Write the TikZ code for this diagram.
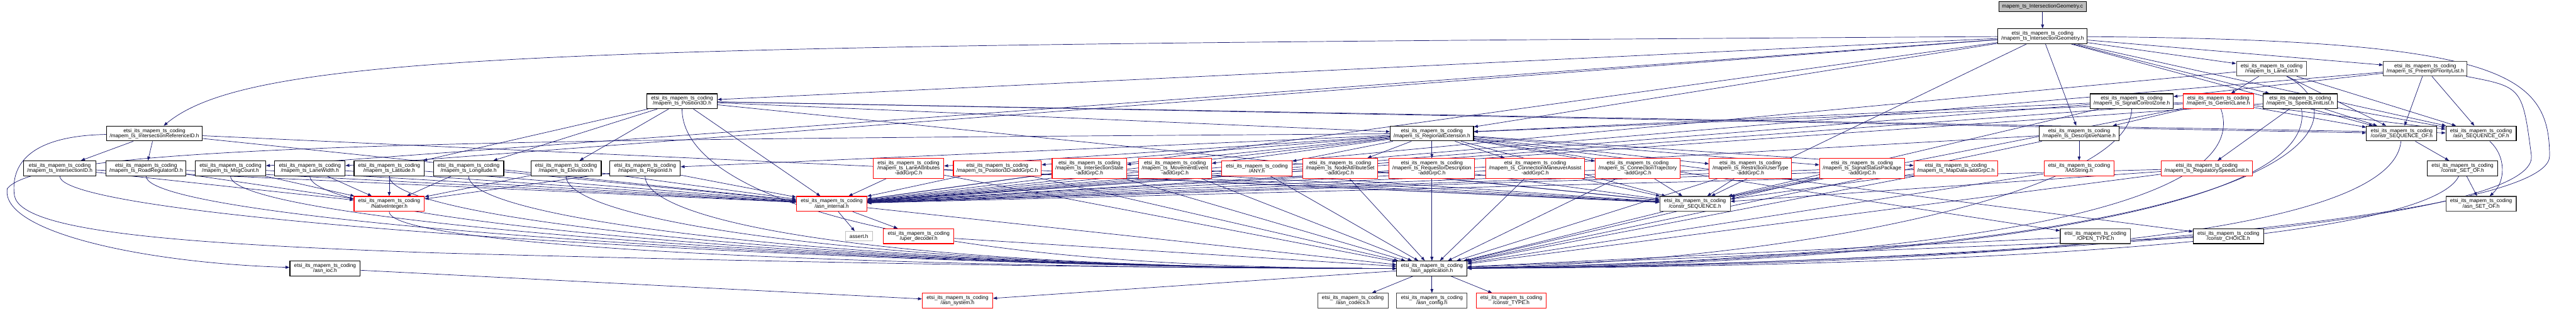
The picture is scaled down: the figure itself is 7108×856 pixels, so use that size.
\documentclass[tikz,border=0pt]{standalone}
\usepackage{fontspec}
\setmainfont{Liberation Sans}
\usetikzlibrary{arrows.meta}

\definecolor{edgeblue}{RGB}{25,25,112}
\definecolor{cutred}{RGB}{255,0,0}
\definecolor{greyline}{RGB}{191,191,191}
\definecolor{darkline}{RGB}{64,64,64}
\newcommand{\pkg}{etsi\_its\_mapem\_ts\_coding}

\pgfdeclarelayer{back}
\pgfsetlayers{back,main}

\tikzset{
  file/.style={draw=black, fill=white, line width=0.55pt, align=center,
    font=\fontsize{4.1}{4.0}\selectfont, inner xsep=0.09cm, inner ysep=0.03cm,
    minimum width=1.94cm, minimum height=0.41cm},
  undoc/.style={file, draw=darkline},
  truncated/.style={file, draw=cutred},
  tall/.style={minimum height=0.55cm},
  sysfile/.style={file, draw=greyline, minimum width=0.74cm, minimum height=0.26cm},
  rootfile/.style={file, fill=greyline, minimum height=0.27cm},
  dep/.style={draw=edgeblue, line width=0.35pt, -{Triangle[length=3.1pt,width=2.3pt]}}
}

\begin{document}
\begin{tikzpicture}[x=0.01cm, y=-0.01cm]
\useasboundingbox (0,0) rectangle (7108,856);

% the file and its header
\node[rootfile] (geomc) at (5636,18) {mapem\_ts\_IntersectionGeometry.c};
\node[file] (geomh) at (5636,100) {\pkg\\/mapem\_ts\_IntersectionGeometry.h};

% lists and records used by the header
\node[undoc] (lanelist) at (6268,189) {\pkg\\/mapem\_ts\_LaneList.h};
\node[undoc] (preempt) at (6692,189) {\pkg\\/mapem\_ts\_PreemptPriorityList.h};
\node[file] (pos3d) at (1882,279) {\pkg\\/mapem\_ts\_Position3D.h};
\node[file] (sigzone) at (5882,279) {\pkg\\/mapem\_ts\_SignalControlZone.h};
\node[truncated] (genlane) at (6121,279) {\pkg\\/mapem\_ts\_GenericLane.h};
\node[file] (speedlist) at (6347,279) {\pkg\\/mapem\_ts\_SpeedLimitList.h};
\node[file] (refid) at (426,368) {\pkg\\/mapem\_ts\_IntersectionReferenceID.h};
\node[file] (regext) at (3951,368) {\pkg\\/mapem\_ts\_RegionalExtension.h};
\node[file] (descname) at (5737,368) {\pkg\\/mapem\_ts\_DescriptiveName.h};
\node[file] (seqofc) at (6627,368) {\pkg\\/constr\_SEQUENCE\_OF.h};
\node[file] (seqofa) at (6846,368) {\pkg\\/asn\_SEQUENCE\_OF.h};

% simple types and extensions
\node[file] (intid) at (165,464) {\pkg\\/mapem\_ts\_IntersectionID.h};
\node[file] (regulator) at (403,464) {\pkg\\/mapem\_ts\_RoadRegulatorID.h};
\node[file] (msgcount) at (636,464) {\pkg\\/mapem\_ts\_MsgCount.h};
\node[file] (lanewidth) at (855,464) {\pkg\\/mapem\_ts\_LaneWidth.h};
\node[file] (lat) at (1074,464) {\pkg\\/mapem\_ts\_Latitude.h};
\node[file] (lon) at (1293,464) {\pkg\\/mapem\_ts\_Longitude.h};
\node[file] (elev) at (1562,464) {\pkg\\/mapem\_ts\_Elevation.h};
\node[file] (regionid) at (1780,464) {\pkg\\/mapem\_ts\_RegionId.h};
\node[truncated, tall] (laneattr) at (2507,464) {\pkg\\/mapem\_ts\_LaneAttributes\\-addGrpC.h};
\node[truncated] (posadd) at (2752,464) {\pkg\\/mapem\_ts\_Position3D-addGrpC.h};
\node[truncated, tall] (intstate) at (3006,464) {\pkg\\/mapem\_ts\_IntersectionState\\-addGrpC.h};
\node[truncated, tall] (moveevent) at (3242,464) {\pkg\\/mapem\_ts\_MovementEvent\\-addGrpC.h};
\node[truncated] (any) at (3468,464) {\pkg\\/ANY.h};
\node[truncated, tall] (nodeattr) at (3698,464) {\pkg\\/mapem\_ts\_NodeAttributeSet\\-addGrpC.h};
\node[truncated, tall] (requestor) at (3951,464) {\pkg\\/mapem\_ts\_RequestorDescription\\-addGrpC.h};
\node[truncated, tall] (maneuver) at (4236,464) {\pkg\\/mapem\_ts\_ConnectionManeuverAssist\\-addGrpC.h};
\node[truncated, tall] (trajectory) at (4519,464) {\pkg\\/mapem\_ts\_ConnectionTrajectory\\-addGrpC.h};
\node[truncated, tall] (restriction) at (4830,464) {\pkg\\/mapem\_ts\_RestrictionUserType\\-addGrpC.h};
\node[truncated, tall] (sigstatus) at (5138,464) {\pkg\\/mapem\_ts\_SignalStatusPackage\\-addGrpC.h};
\node[truncated] (mapdata) at (5397,464) {\pkg\\/mapem\_ts\_MapData-addGrpC.h};
\node[truncated] (ia5) at (5737,464) {\pkg\\/IA5String.h};
\node[truncated] (speedlimit) at (6089,464) {\pkg\\/mapem\_ts\_RegulatorySpeedLimit.h};
\node[file] (setofc) at (6795,464) {\pkg\\/constr\_SET\_OF.h};

% runtime support
\node[truncated] (nativeint) at (1074,562) {\pkg\\/NativeInteger.h};
\node[truncated] (internal) at (2295,562) {\pkg\\/asn\_internal.h};
\node[undoc] (seqc) at (4677,562) {\pkg\\/constr\_SEQUENCE.h};
\node[undoc] (setofa) at (6846,562) {\pkg\\/asn\_SET\_OF.h};
\node[sysfile] (assert) at (2370,651) {assert.h};
\node[truncated] (uperdec) at (2535,651) {\pkg\\/uper\_decoder.h};
\node[undoc] (opentype) at (5782,651) {\pkg\\/OPEN\_TYPE.h};
\node[file] (choice) at (6149,651) {\pkg\\/constr\_CHOICE.h};
\node[file] (ioc) at (897,740) {\pkg\\/asn\_ioc.h};
\node[file] (app) at (3951,740) {\pkg\\/asn\_application.h};
\node[truncated] (system) at (2642,829) {\pkg\\/asn\_system.h};
\node[undoc] (codecs) at (3733,829) {\pkg\\/asn\_codecs.h};
\node[undoc] (config) at (3951,829) {\pkg\\/asn\_config.h};
\node[truncated] (type) at (4170,829) {\pkg\\/constr\_TYPE.h};

\begin{pgfonlayer}{back}
\draw[dep] (geomc) -- (geomh);

% what the geometry header pulls in
\foreach \t in {descname,msgcount,pos3d,lanewidth,speedlist,lanelist,preempt,seqofa,seqofc,seqc,regext,internal}
  \draw[dep] (geomh) -- (\t);
\draw[dep] (geomh) .. controls (1600,125) and (700,140) .. (refid);
\draw[dep] (geomh) .. controls (6900,110) and (7035,200) .. (7035,430) .. controls (7035,620) and (5200,735) .. (app);

% lists
\foreach \s/\e in {lanelist/genlane,preempt/sigzone,speedlist/speedlimit} {
  \draw[dep] (\s) -- (\e);
  \draw[dep] (\s) -- (seqofa);
  \draw[dep] (\s) -- (seqofc);
  \draw[dep] (\s) -- (internal);
}
\draw[dep] (lanelist) .. controls (6520,320) and (6450,700) .. (app);
\draw[dep] (speedlist) .. controls (6400,600) and (5200,730) .. (app);
\draw[dep] (preempt) .. controls (6960,240) .. (6985,430) .. controls (7000,640) and (5200,730) .. (app);

% position, zone, lane
\foreach \t in {lat,lon,elev,seqofa,seqofc,seqc,regext,internal}
  \draw[dep] (pos3d) -- (\t);
\draw[dep] (pos3d) .. controls +(0,250) and +(-1500,0) .. (app);
\foreach \t in {regext,seqc,internal}
  \draw[dep] (sigzone) -- (\t);
\draw[dep] (sigzone) .. controls (5880,520) and (5000,720) .. (app);
\foreach \t in {descname,seqofa,seqofc,seqc,regext,internal}
  \draw[dep] (genlane) -- (\t);
\draw[dep] (genlane) .. controls (6230,600) and (5200,720) .. (app);

% reference id
\foreach \t in {intid,regulator,seqc,internal}
  \draw[dep] (refid) -- (\t);
\draw[dep] (refid) .. controls (60,375) and (30,470) .. (40,540) .. controls (60,640) and (500,672) .. (1200,697) .. controls (2400,730) and (3300,740) .. (app);

% regional extension
\foreach \t in {regionid,any,laneattr,posadd,intstate,moveevent,nodeattr,requestor,maneuver,trajectory,restriction,sigstatus,mapdata,opentype,choice,seqc,internal,app}
  \draw[dep] (regext) -- (\t);
\draw[dep] (regext) .. controls (1500,385) and (120,390) .. (20,520) .. controls (0,640) and (400,725) .. (ioc);

% descriptive name
\foreach \t in {ia5,internal,app}
  \draw[dep] (descname) -- (\t);

% integer types
\foreach \s in {intid,regulator,msgcount,lanewidth,lat,lon,elev,regionid} {
  \draw[dep] (\s) -- (nativeint);
  \draw[dep] (\s) -- (internal);
  \draw[dep] (\s) .. controls +(0,150) and +(-1500,0) .. (app);
}

% extension records
\foreach \s in {laneattr,posadd,intstate,moveevent,nodeattr,requestor,maneuver,trajectory,restriction,sigstatus,mapdata,speedlimit} {
  \draw[dep] (\s) -- (seqc);
  \draw[dep] (\s) -- (internal);
  \draw[dep] (\s) -- (app);
}
\draw[dep] (any) -- (app);
\draw[dep] (ia5) -- (app);

% constructed types
\draw[dep] (seqofc) -- (setofc);
\draw[dep] (seqofc) .. controls (6600,650) and (5500,730) .. (app);
\draw[dep] (seqofa) .. controls (6915,430) and (6915,500) .. (setofa);
\draw[dep] (setofc) -- (setofa);
\draw[dep] (setofc) .. controls (6700,660) and (5500,735) .. (app);

% runtime support
\draw[dep] (nativeint) .. controls +(0,120) and +(-1500,0) .. (app);
\foreach \t in {assert,uperdec,app}
  \draw[dep] (internal) -- (\t);
\foreach \s in {uperdec,opentype,choice,seqc}
  \draw[dep] (\s) -- (app);
\foreach \t in {system,codecs,config,type}
  \draw[dep] (app) -- (\t);
\draw[dep] (ioc) -- (system);
\end{pgfonlayer}
\end{tikzpicture}
\end{document}
